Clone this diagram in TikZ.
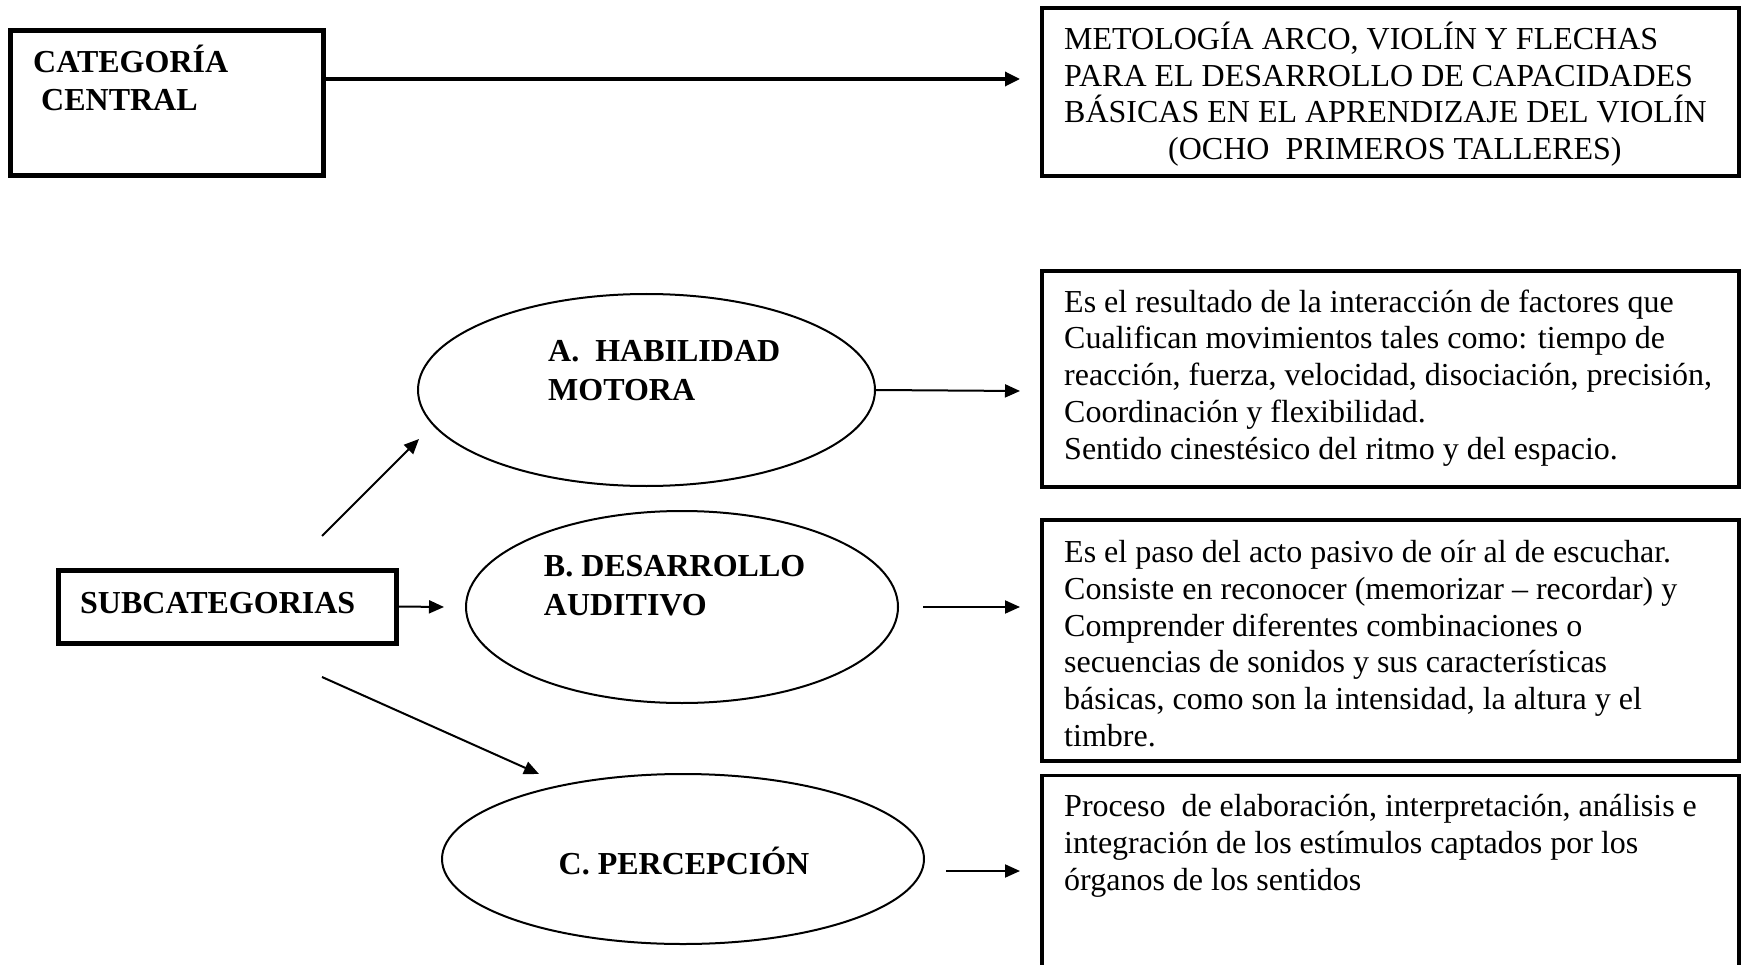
\documentclass[tikz,border=0pt]{standalone}
\usepackage{fontspec}
\setmainfont{Liberation Serif}
\usetikzlibrary{arrows.meta,shapes.geometric}
\begin{document}
\begin{tikzpicture}[x=1pt,y=-1pt,
  txt/.style={anchor=north west,inner sep=0,align=left,font=\fontsize{32}{36.8}\selectfont},
  btxt/.style={anchor=north west,inner sep=0,align=left,font=\fontsize{32}{38.5}\selectfont\bfseries},
  thickbox/.style={draw,rectangle,line width=5pt,inner sep=0},
  descbox/.style={draw,rectangle,line width=3.5pt,inner sep=0},
  oval/.style={draw,ellipse,line width=2pt,inner sep=0},
  arr/.style={line width=2pt,-{Triangle[length=15pt,width=13pt]}},
  bigarr/.style={line width=3.3pt,-{Triangle[length=15pt,width=14pt]}}]
\clip (0,0) rectangle (1747,965);
\fill[white] (0,0) rectangle (1747,965);

% boxes
\node[thickbox,minimum width=313pt,minimum height=145pt] (cat) at (166.5,103.5) {};
\node[descbox,minimum width=697pt,minimum height=168pt] (tb) at (1390.5,92) {};
\node[descbox,minimum width=697pt,minimum height=216pt] (ba) at (1390.5,379) {};
\node[descbox,minimum width=697pt,minimum height=241pt] (bb) at (1390.5,640.5) {};
\node[descbox,minimum width=697pt,minimum height=250pt] (bc) at (1390.5,900.5) {};
\node[thickbox,minimum width=338pt,minimum height=73pt] (sub) at (227,606.5) {};

% ellipses
\node[oval,minimum width=457pt,minimum height=192pt] (ea) at (646.5,390) {};
\node[oval,minimum width=432pt,minimum height=192pt] (eb) at (682,607) {};
\node[oval,minimum width=482pt,minimum height=170pt] (ec) at (683,859) {};

% texts
\node[btxt] (catt) at (33,44.5) {\strut CATEGORÍA\\\hspace*{8pt}CENTRAL};
\node[txt,font=\fontsize{32}{36.4}\selectfont] (tbt) at (1064,22.2) {\strut METOLOGÍA ARCO, VIOLÍN Y FLECHAS\\
PARA EL DESARROLLO DE CAPACIDADES\\
BÁSICAS EN EL APRENDIZAJE DEL VIOLÍN\\
\hspace*{104pt}(OCHO\ \ PRIMEROS TALLERES)};
\node[txt] (bat) at (1064,286.2) {\strut Es el resultado de la interacción de factores que\\
Cualifican movimientos tales como: tiempo de\\
reacción, fuerza, velocidad, disociación, precisión,\\
Coordinación y flexibilidad.\\
Sentido cinestésico del ritmo y del espacio.};
\node[txt] (bbt) at (1064,536.5) {\strut Es el paso del acto pasivo de oír al de escuchar.\\
Consiste en reconocer (memorizar – recordar) y\\
Comprender diferentes combinaciones o\\
secuencias de sonidos y sus características\\
básicas, como son la intensidad, la altura y el\\
timbre.};
\node[txt] (bct) at (1064,791) {\strut Proceso\ \ de elaboración, interpretación, análisis e\\
integración de los estímulos captados por los\\
órganos de los sentidos};
\node[btxt] (eat) at (548,334.4) {\strut A.\ \ HABILIDAD\\MOTORA};
\node[btxt] (ebt) at (543.7,549.4) {\strut B. DESARROLLO\\AUDITIVO};
\node[anchor=base,inner sep=0,font=\fontsize{32}{38.5}\selectfont\bfseries] (ect) at (684,874) {C. PERCEPCIÓN};
\node[anchor=base west,inner sep=0,font=\fontsize{32}{38.5}\selectfont\bfseries] (subt) at (80,613.5) {SUBCATEGORIAS};

% connector end points
\coordinate (c0s) at (323,79);
\coordinate (c0e) at (1020,79);
\coordinate (cae) at (1020,391);
\coordinate (cbs) at (923,607);
\coordinate (cbe) at (1020,607);
\coordinate (ccs) at (946,871);
\coordinate (cce) at (1020,871);
\coordinate (sube) at (444,607);
\coordinate (upS) at (322,536);
\coordinate (upE) at (419,439);
\coordinate (dnS) at (322,677);
\coordinate (dnE) at (539,774);

% connectors
\draw[bigarr] (c0s) -- (c0e);
\draw[arr] (ea.east) -- (cae);
\draw[arr] (cbs) -- (cbe);
\draw[arr] (ccs) -- (cce);
\draw[arr] (sub.east) -- (sube);
\draw[arr] (upS) -- (upE);
\draw[arr] (dnS) -- (dnE);
\end{tikzpicture}
\end{document}
